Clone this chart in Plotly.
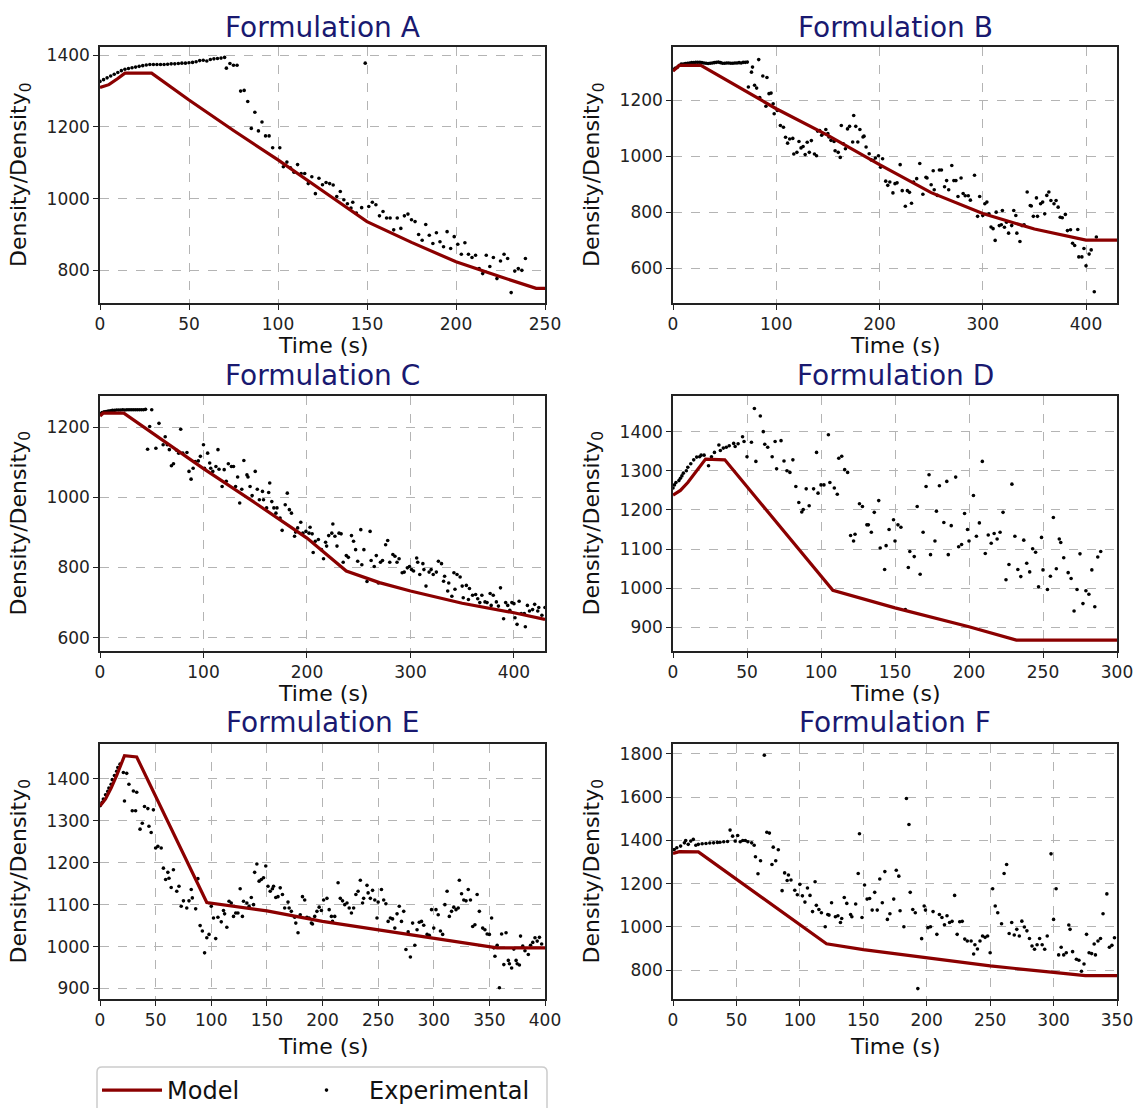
import plotly.graph_objects as go

W, H = 1133, 1108

# ---------------- data ----------------
titles = ["Formulation A", "Formulation B", "Formulation C",
          "Formulation D", "Formulation E", "Formulation F"]

a_model = [(0, 1310), (5, 1318), (10, 1335), (14, 1350), (29, 1350), (50, 1275), (75, 1190),
           (100, 1108), (125, 1022), (150, 936), (175, 878), (200, 824), (225, 782), (245, 750), (250, 750)]
a_exp = [(0, 1327), (2, 1332), (4, 1337), (6, 1342), (8, 1347), (10, 1352), (12, 1357), (14, 1361), (16, 1363),
         (18, 1365), (20, 1367), (22, 1369), (24, 1371), (26, 1373), (28, 1374), (30, 1374), (32, 1374), (34, 1374),
         (36, 1374), (38, 1375), (40, 1376), (42, 1376), (44, 1377), (46, 1378), (48, 1378), (50, 1379), (52, 1380),
         (54, 1382), (56, 1385), (58, 1386), (60, 1384), (62, 1388), (64, 1390), (66, 1391), (68, 1392), (70, 1394),
         (71, 1364), (73, 1377), (75, 1372), (77, 1372), (79, 1300), (81, 1302), (83, 1271), (85, 1196), (87, 1241),
         (89, 1189), (91, 1214), (93, 1175), (95, 1175), (97, 1142), (101, 1142), (103, 1089), (105, 1102),
         (107, 1086), (109, 1074), (111, 1095), (113, 1070), (115, 1070), (117, 1042), (119, 1061), (121, 1014),
         (123, 1057), (125, 1039), (127, 1045), (129, 1042), (131, 1038), (133, 1006), (135, 1020), (137, 997),
         (139, 986), (141, 974), (142, 990), (144, 960), (147, 975), (149, 1378), (151, 978), (153, 990), (155, 983),
         (157, 952), (159, 964), (161, 946), (163, 946), (165, 913), (167, 946), (169, 917), (171, 952), (173, 957),
         (175, 941), (177, 936), (179, 900), (181, 884), (183, 928), (185, 898), (187, 875), (189, 905), (191, 880),
         (193, 866), (195, 908), (197, 861), (199, 894), (201, 873), (203, 845), (205, 877), (207, 845), (209, 836),
         (211, 842), (213, 805), (215, 791), (217, 842), (219, 811), (221, 836), (223, 777), (225, 826), (227, 845),
         (229, 833), (231, 738), (233, 798), (235, 805), (237, 800), (239, 833)]

b_model = [(0, 1305), (3, 1315), (6, 1325), (27, 1325), (100, 1170), (150, 1075), (200, 970), (250, 870),
           (300, 795), (350, 740), (400, 700), (430, 700)]
b_exp = [(0, 1310), (2, 1315), (4, 1318), (6, 1325), (8, 1330), (10, 1330), (12, 1332), (14, 1333), (16, 1334),
         (18, 1335), (20, 1335), (22, 1336), (24, 1336), (26, 1336), (28, 1335), (30, 1334), (32, 1333), (34, 1332),
         (36, 1333), (38, 1334), (40, 1335), (42, 1336), (44, 1337), (46, 1335), (48, 1333), (50, 1333), (52, 1334),
         (54, 1334), (56, 1333), (58, 1333), (60, 1334), (62, 1334), (64, 1335), (66, 1334), (68, 1336), (70, 1336),
         (72, 1337),
         (73, 1248), (76, 1301), (77, 1319), (79, 1254), (81, 1244), (83, 1346), (84, 1210), (87, 1287), (90, 1179),
         (91, 1282), (93, 1224), (95, 1226), (97, 1188),
         (98, 1152), (101, 1164), (104, 1110), (107, 1104), (109, 1068), (111, 1047), (113, 1062), (116, 1064),
         (117, 1008), (120, 1014), (122, 1053), (124, 1030), (126, 1035), (128, 1006), (130, 1050), (132, 1014),
         (134, 1056), (137, 1008), (139, 1002), (140, 1090), (142, 1092), (144, 1075), (145, 1081), (148, 1096),
         (150, 1081), (151, 1069), (153, 1057), (156, 1053), (157, 1020), (160, 1014), (162, 996), (163, 1110),
         (165, 1045), (167, 1027), (169, 1098), (171, 1107), (174, 1051), (175, 1146), (177, 1107), (179, 1051),
         (181, 1096), (184, 1069), (185, 1072), (187, 1033), (190, 1009), (192, 987), (194, 985), (196, 994),
         (199, 1002), (201, 961), (203, 991), (206, 911), (208, 896), (210, 908), (213, 869), (215, 902), (217, 905),
         (220, 970), (222, 877), (225, 821), (227, 877), (229, 871), (231, 832), (233, 908), (236, 920), (239, 974),
         (242, 864), (245, 925), (246, 922), (250, 898), (252, 948), (253, 880), (256, 860), (258, 951), (260, 951),
         (263, 891), (265, 913), (267, 880), (270, 967), (272, 913), (274, 913), (276, 856), (279, 922), (281, 867),
         (283, 859), (286, 859), (288, 843), (292, 932), (295, 785),
         (297, 856), (300, 788), (302, 830), (304, 836), (306, 794), (308, 747), (310, 741), (312, 699), (313, 800),
         (316, 752), (318, 755), (319, 806), (321, 746), (323, 764), (325, 725), (328, 752), (330, 806), (332, 788),
         (333, 725), (336, 695), (338, 752), (340, 755), (343, 872), (346, 824), (347, 822), (349, 785), (352, 851),
         (353, 785), (356, 830), (358, 836), (360, 794), (362, 860), (364, 872), (366, 842), (369, 830), (371, 842),
         (373, 818), (375, 782), (377, 780), (380, 792), (382, 734), (385, 737), (387, 689), (389, 681), (392, 738),
         (393, 640), (396, 640), (398, 670), (400, 608), (403, 650), (405, 665), (408, 515), (410, 711)]

c_model = [(0, 1232), (3, 1240), (23, 1240), (100, 1082), (150, 984), (200, 884), (238, 790), (270, 757),
           (300, 733), (350, 698), (400, 671), (430, 652)]
c_exp = [(0, 1238), (2, 1242), (4, 1244), (6, 1245), (8, 1246), (10, 1247), (12, 1248), (14, 1248), (16, 1249),
         (18, 1249), (20, 1249), (22, 1250), (24, 1249), (26, 1250), (28, 1250), (30, 1250), (32, 1250), (34, 1250),
         (36, 1250), (38, 1250), (40, 1250), (42, 1250), (44, 1251),
         (46, 1137), (48, 1202), (50, 1250), (54, 1140), (57, 1211), (61, 1150), (63, 1173), (65, 1150), (67, 1136),
         (69, 1090), (71, 1096), (74, 1134), (76, 1126), (78, 1194), (80, 1126), (84, 1128), (86, 1074), (88, 1052),
         (90, 1083), (92, 1102), (95, 1104), (97, 1117), (100, 1150), (101, 1083), (104, 1126), (106, 1098),
         (107, 1083), (109, 1074), (112, 1088), (114, 1136), (115, 1080), (118, 1031), (120, 1079), (122, 1046),
         (124, 1096), (127, 1088), (129, 1088), (131, 1031), (133, 1058), (135, 984), (137, 1023), (139, 1105),
         (142, 1064), (143, 1058), (145, 1031), (147, 1005), (150, 1074), (152, 1023), (154, 993), (157, 1017),
         (158, 993), (161, 970), (163, 1014), (164, 1041), (166, 988), (168, 970), (170, 955), (171, 970),
         (174, 941), (176, 906), (179, 979), (181, 1012), (183, 965), (185, 955), (188, 889), (189, 901), (191, 913),
         (194, 929), (196, 898), (199, 903), (202, 898), (203, 915), (205, 896), (206, 843), (208, 875), (211, 880),
         (214, 851), (216, 825), (218, 872), (219, 861), (221, 891), (224, 898), (225, 924), (227, 889), (229, 861),
         (231, 898), (233, 896), (235, 815), (238, 834), (240, 829), (243, 891), (245, 875), (247, 851), (249, 818),
         (252, 908), (253, 808), (255, 851), (258, 760), (261, 903), (262, 820), (265, 803), (267, 834), (269, 756),
         (271, 815), (273, 820), (276, 865), (278, 877), (280, 815), (283, 837), (285, 832), (287, 815), (289, 825),
         (292, 785), (294, 787), (297, 799), (299, 803), (301, 794), (303, 790), (306, 827), (307, 815), (309, 780),
         (312, 811), (313, 794), (315, 747), (318, 787), (320, 794), (322, 780), (325, 787), (327, 818), (330, 811),
         (332, 761), (333, 775), (336, 733), (337, 756), (340, 718), (342, 785), (343, 738), (345, 780), (348, 773),
         (350, 747), (351, 714), (354, 749), (356, 709), (357, 740), (360, 721), (363, 723), (365, 711), (367, 700),
         (369, 721), (372, 702), (374, 700), (377, 726), (378, 692), (380, 721), (383, 702), (385, 690), (387, 742),
         (390, 654), (392, 700), (394, 692), (396, 678), (398, 700), (400, 697), (401, 657), (403, 638), (405, 704),
         (407, 669), (410, 669), (411, 631), (413, 692), (415, 676), (418, 680), (420, 695), (423, 676), (424, 686),
         (427, 664), (430, 686)]

d_model = [(0, 1238), (5, 1250), (10, 1270), (15, 1295), (22, 1330), (35, 1328), (108, 995), (150, 950),
           (200, 902), (232, 868), (300, 868)]
d_exp = [(0, 1256), (1, 1264), (2, 1270), (4, 1275), (5, 1281), (6, 1287), (7, 1294), (9, 1300), (10, 1309),
         (12, 1318), (14, 1328), (16, 1335), (18, 1336), (19, 1340), (21, 1340),
         (24, 1313), (26, 1336), (28, 1347), (31, 1366), (32, 1352), (34, 1358), (36, 1360), (38, 1364), (41, 1370),
         (42, 1362), (44, 1369), (47, 1387), (48, 1375), (50, 1336), (53, 1373), (55, 1459), (56, 1324), (59, 1440),
         (61, 1400), (62, 1368), (64, 1360), (67, 1336), (69, 1375), (70, 1305), (73, 1377), (75, 1325), (77, 1300),
         (79, 1296), (81, 1328), (83, 1260), (85, 1219), (87, 1195), (88, 1201), (90, 1254), (92, 1211), (95, 1254),
         (97, 1347), (98, 1243), (100, 1264), (102, 1264), (105, 1392), (106, 1270), (109, 1256), (111, 1240),
         (112, 1332), (114, 1337), (116, 1303), (118, 1296), (120, 1135), (122, 1121), (123, 1138), (126, 1216),
         (128, 1209), (131, 1162), (132, 1162), (134, 1143), (136, 1194), (139, 1224), (140, 1103), (143, 1048),
         (144, 1109), (146, 1150), (149, 1175), (150, 1121), (152, 1162), (154, 1156), (157, 946), (159, 1053),
         (160, 1094), (163, 1081), (165, 1209), (167, 1036), (169, 1143), (171, 1260), (173, 1290), (174, 1086),
         (177, 1121), (178, 1197), (180, 1262), (183, 1168), (185, 1273), (186, 1086), (188, 1160), (191, 1284),
         (193, 1106), (195, 1112), (197, 1191), (199, 1150), (200, 1121), (203, 1237), (205, 1133), (207, 1167),
         (209, 1324), (211, 1089), (213, 1136), (215, 1115), (217, 1140), (219, 1126), (221, 1143), (223, 1194),
         (225, 1022), (227, 1061), (229, 1266), (231, 1133), (233, 1048), (235, 1030), (237, 1123), (239, 1064),
         (241, 1042), (243, 1101), (245, 1092), (247, 1004), (249, 1130), (250, 1047), (253, 997), (255, 1031),
         (257, 1181), (259, 1050), (261, 1126), (262, 1117), (264, 1078), (267, 1040), (269, 1025), (271, 942),
         (273, 997), (275, 1088), (277, 961), (279, 994), (281, 985), (283, 1047), (285, 953), (287, 1080),
         (289, 1094)]

e_model = [(0, 1335), (5, 1352), (10, 1378), (15, 1408), (22, 1455), (33, 1452), (96, 1105), (150, 1085),
           (200, 1060), (250, 1040), (300, 1020), (357, 997), (400, 997)]
e_exp = [(0, 1336), (2, 1344), (3, 1352), (5, 1362), (7, 1370), (8, 1378), (10, 1387), (11, 1398), (13, 1408),
         (15, 1418), (16, 1427), (18, 1435),
         (21, 1415), (22, 1347), (24, 1413), (26, 1387), (29, 1324), (30, 1371), (32, 1324), (33, 1368), (36, 1280),
         (38, 1294), (40, 1334), (43, 1329), (44, 1287), (46, 1272), (48, 1326), (50, 1235), (52, 1239), (55, 1235),
         (57, 1187), (59, 1160), (61, 1177), (62, 1163), (64, 1141), (66, 1183), (69, 1132), (71, 1144), (73, 1096),
         (75, 1109), (78, 1092), (80, 1109), (82, 1136), (83, 1116), (86, 1090), (88, 1162), (90, 1050), (92, 1037),
         (94, 985), (96, 1021), (98, 1029), (100, 1096), (102, 1068), (104, 1019), (106, 1070), (109, 1059),
         (111, 1086), (112, 1078), (114, 1046), (116, 1108), (118, 1104), (120, 1072), (122, 1080), (124, 1080),
         (126, 1138), (128, 1072), (129, 1108), (132, 1104), (134, 1096), (136, 1117), (138, 1100), (139, 1177),
         (141, 1197), (143, 1156), (145, 1160), (147, 1164), (149, 1192), (151, 1144), (153, 1132), (155, 1138),
         (156, 1144), (158, 1117), (160, 1119), (162, 1140), (164, 1124), (166, 1092), (169, 1106), (170, 1092),
         (172, 1084), (175, 1070), (176, 1056), (178, 1033), (180, 1076), (182, 1119), (184, 1111), (186, 1070),
         (188, 1068), (190, 1056), (191, 1054), (193, 1072), (195, 1084), (197, 1094), (199, 1086), (201, 1111),
         (204, 1115), (206, 1088), (208, 1072), (209, 1060), (211, 1072), (214, 1152), (216, 1115), (218, 1109),
         (220, 1100), (222, 1104), (224, 1092), (226, 1080), (228, 1092), (230, 1124), (232, 1132), (234, 1158),
         (236, 1104), (237, 1115), (240, 1146), (241, 1128), (243, 1115), (245, 1134), (247, 1111), (249, 1068),
         (250, 1106), (253, 1136), (255, 1111), (257, 1102), (259, 1060), (261, 1068), (263, 1066), (265, 1044),
         (267, 1078), (269, 1096), (271, 1060), (273, 1084), (275, 993), (277, 1035), (279, 975), (281, 1056),
         (283, 1003), (285, 1040), (287, 1058), (289, 1060), (291, 1051), (294, 1029), (296, 1027), (298, 1088),
         (300, 1044), (302, 1088), (304, 1076), (306, 1037), (308, 1029), (310, 1100), (312, 1132), (314, 1072),
         (316, 1084), (318, 1094), (320, 1088), (322, 1092), (323, 1158), (325, 1126), (327, 1111), (329, 1109),
         (331, 1136), (333, 1111), (335, 1048), (337, 1052), (339, 1124), (341, 1084), (344, 1044), (346, 1040),
         (348, 1030), (350, 1029), (352, 1068), (354, 997), (355, 977), (357, 1003), (359, 902), (361, 1030),
         (363, 957), (365, 1033), (367, 967), (368, 959), (370, 949), (372, 994), (374, 967), (375, 959), (377, 956),
         (378, 1025), (380, 1001), (382, 990), (385, 981), (387, 1003), (389, 1010), (391, 1021), (393, 1013),
         (395, 1022), (397, 1006)]

f_model = [(0, 1340), (5, 1348), (20, 1347), (121, 922), (150, 895), (200, 858), (250, 820), (300, 790),
           (325, 775), (350, 775)]
f_exp = [(1, 1358), (3, 1366), (6, 1374), (9, 1389), (10, 1400), (12, 1382), (14, 1397), (16, 1405),
         (18, 1378), (20, 1382), (23, 1385), (26, 1386), (29, 1388), (32, 1389), (35, 1391), (37, 1392), (40, 1394),
         (43, 1395),
         (45, 1448), (47, 1420), (49, 1397), (51, 1423), (53, 1394), (55, 1400), (57, 1400), (59, 1394), (62, 1389),
         (64, 1378), (65, 1325), (67, 1246), (69, 1306), (72, 1794), (74, 1438), (76, 1434), (78, 1289), (79, 1369),
         (81, 1306), (83, 1357), (86, 1168), (88, 1250), (90, 1215), (91, 1240), (93, 1217), (96, 1170), (98, 1149),
         (100, 1197), (102, 1144), (104, 1115), (106, 1180), (108, 1146), (110, 1071), (112, 1209), (113, 1100),
         (115, 1081), (117, 1066), (120, 1001), (122, 1058), (123, 1055), (125, 1112), (128, 1047), (130, 1052),
         (132, 1021), (133, 1039), (135, 1136), (137, 1109), (140, 1058), (141, 1047), (144, 1106), (146, 1247),
         (147, 1431), (149, 1044), (151, 1194), (153, 1129), (155, 1132), (157, 1078), (159, 1160), (161, 1078),
         (163, 1222), (165, 1112), (167, 1256), (169, 1035), (171, 1061), (174, 1129), (176, 1262), (178, 1235),
         (179, 1075), (182, 1001), (184, 1594), (186, 1474), (187, 1160), (189, 1081), (191, 1066), (193, 715),
         (196, 946), (198, 1097), (199, 1078), (201, 997), (203, 1001), (205, 1071), (208, 966), (210, 1058),
         (212, 1044), (214, 1010), (216, 1052), (218, 1021), (220, 1026), (222, 1146), (224, 966), (226, 1024),
         (228, 1026), (230, 944), (232, 935), (235, 935), (237, 875), (238, 918), (240, 898), (242, 935), (244, 958),
         (246, 952), (248, 958), (250, 881), (252, 1177), (254, 1097), (256, 1066), (259, 1015), (261, 1247),
         (263, 1289), (265, 970), (267, 1021), (269, 963), (271, 989), (273, 958), (275, 1027), (277, 1000),
         (279, 982), (281, 947), (283, 912), (285, 897), (287, 918), (289, 947), (291, 918), (293, 897), (295, 958),
         (298, 1338), (300, 1035), (302, 1177), (304, 871), (306, 906), (308, 871), (310, 881), (312, 1009),
         (313, 989), (315, 886), (318, 851), (320, 846), (322, 795), (324, 829), (326, 966), (328, 881), (330, 877),
         (332, 921), (333, 871), (335, 935), (337, 947), (339, 1061), (342, 1153), (344, 906), (346, 915),
         (348, 950)]

x_ranges = [[0, 250], [0, 430], [0, 430], [0, 300], [0, 400], [0, 350]]
y_ranges = [[709, 1423], [475, 1391], [562, 1289], [840, 1491], [875, 1483], [667, 1846]]
x_dticks = [50, 100, 100, 50, 50, 50]
y_dticks = [200, 200, 200, 100, 100, 200]

models = [a_model, b_model, c_model, d_model, e_model, f_model]
exps = [a_exp, b_exp, c_exp, d_exp, e_exp, f_exp]

# ---------------- layout geometry (pixels) ----------------
col_x = [(100, 545), (673, 1117)]
row_y = [(47, 303), (396, 651), (744, 999)]
ylab_x = [20, 593]
title_y = [27, 376, 722]
xlab_y = [345, 693, 1046]

FONT = "DejaVu Sans"
MODEL_COLOR = "#8b0000"
TITLE_COLOR = "#191970"

fig = go.Figure()
annotations = []
layout_axes = {}

for i in range(6):
    r, c = divmod(i, 2)
    n = "" if i == 0 else str(i + 1)
    xa, ya = "x" + n, "y" + n
    x0, x1 = col_x[c]
    y0, y1 = row_y[r]
    mt, my = zip(*models[i])
    et, ey = zip(*exps[i])
    fig.add_trace(go.Scatter(x=list(et), y=list(ey), mode="markers", name="Experimental",
                             marker=dict(color="black", size=3.6), xaxis=xa, yaxis=ya,
                             showlegend=(i == 0), legend="legend2"))
    fig.add_trace(go.Scatter(x=list(mt), y=list(my), mode="lines", name="Model",
                             line=dict(color=MODEL_COLOR, width=3.2), xaxis=xa, yaxis=ya,
                             showlegend=(i == 0), legend="legend"))
    common = dict(showline=True, linecolor="#222222", linewidth=1.5, mirror=True,
                  ticks="outside", ticklen=5, tickwidth=1.2, tickcolor="#222222",
                  showgrid=True, gridcolor="#b4b4b4", griddash="dash", gridwidth=1,
                  zeroline=False, automargin=False, ticklabeloverflow="allow",
                  tickfont=dict(family=FONT, size=17, color="#222222"))
    layout_axes["xaxis" + n] = dict(common, domain=[x0 / W, x1 / W], range=x_ranges[i],
                                    dtick=x_dticks[i], tick0=0, anchor=ya)
    layout_axes["yaxis" + n] = dict(common, domain=[1 - y1 / H, 1 - y0 / H], range=y_ranges[i],
                                    dtick=y_dticks[i], tick0=0, anchor=xa)
    annotations.append(dict(text=titles[i], x=(x0 + x1) / 2 / W, y=1 - title_y[r] / H,
                            xref="paper", yref="paper", xanchor="center", yanchor="middle",
                            showarrow=False, font=dict(family=FONT, size=28, color=TITLE_COLOR)))
    annotations.append(dict(text="Time (s)", x=(x0 + x1) / 2 / W, y=1 - xlab_y[r] / H,
                            xref="paper", yref="paper", xanchor="center", yanchor="middle",
                            showarrow=False, font=dict(family=FONT, size=22, color="#111111")))
    annotations.append(dict(text="Density/Density<sub>0</sub>", x=ylab_x[c] / W,
                            y=1 - (y0 + y1) / 2 / H, xref="paper", yref="paper",
                            xanchor="center", yanchor="middle", textangle=-90,
                            showarrow=False, font=dict(family=FONT, size=22, color="#111111")))

# legend frame (rounded rectangle) in pixel-derived paper coords
lx0, lx1, ly0, ly1, rad = 97, 547, 1067, 1118, 5
def px(x):
    return x / W
def py(y):
    return 1 - y / H
frame = (f"M {px(lx0 + rad)},{py(ly0)} L {px(lx1 - rad)},{py(ly0)} "
         f"Q {px(lx1)},{py(ly0)} {px(lx1)},{py(ly0 + rad)} L {px(lx1)},{py(ly1 - rad)} "
         f"Q {px(lx1)},{py(ly1)} {px(lx1 - rad)},{py(ly1)} L {px(lx0 + rad)},{py(ly1)} "
         f"Q {px(lx0)},{py(ly1)} {px(lx0)},{py(ly1 - rad)} L {px(lx0)},{py(ly0 + rad)} "
         f"Q {px(lx0)},{py(ly0)} {px(lx0 + rad)},{py(ly0)} Z")

leg_common = dict(orientation="h", yanchor="top", y=1 - 1068 / H, bgcolor="rgba(0,0,0,0)",
                  borderwidth=0, font=dict(family=FONT, size=24, color="#111111"))

fig.update_layout(
    width=W, height=H,
    margin=dict(l=0, r=0, t=0, b=0, autoexpand=False),
    paper_bgcolor="white", plot_bgcolor="white",
    font=dict(family=FONT, color="#111111"),
    annotations=annotations,
    shapes=[dict(type="path", path=frame, xref="paper", yref="paper",
                 line=dict(color="#cccccc", width=1.5), fillcolor="rgba(0,0,0,0)", layer="below")],
    legend=dict(leg_common, x=97 / W, xanchor="left", itemwidth=60),
    legend2=dict(leg_common, x=284 / W, xanchor="left", itemwidth=75),
    **layout_axes,
)

fig.write_html("out.html", config={"displayModeBar": False},
               post_script="document.body.style.margin='0px';")
